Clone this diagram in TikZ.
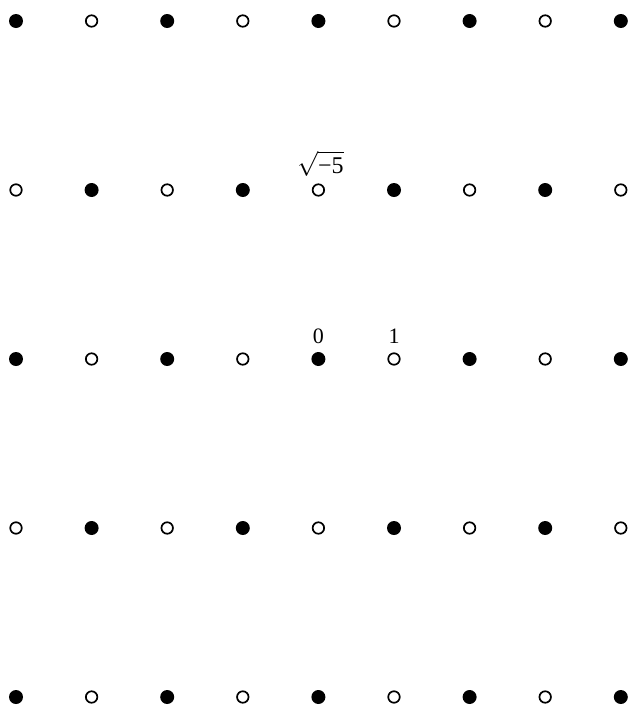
\documentclass[tikz,border=0pt]{standalone}
\usepackage{fontspec}
\setmainfont{Liberation Serif}
\usepackage{amsmath}
\usetikzlibrary{calc}
\begin{document}
\begin{tikzpicture}[x=1pt,y=-1pt,
  fulldot/.style={circle,fill=black,inner sep=0pt,minimum size=14pt},
  opendot/.style={circle,draw=black,line width=1.7pt,fill=white,inner sep=0pt,minimum size=11.5pt},
  lbl/.style={font=\fontsize{22}{26}\selectfont,inner sep=0pt,anchor=base}]
\useasboundingbox (0,0) rectangle (629,705);
\foreach \i in {0,...,8}{
  \foreach \j in {0,...,4}{
    \pgfmathtruncatemacro{\parity}{mod(\i+\j,2)}
    \ifnum\parity=0
      \node[fulldot] (p\i\j) at ({16+75.6*\i},{21+169*\j}) {};
    \else
      \node[opendot] (p\i\j) at ({16+75.6*\i},{21+169*\j}) {};
    \fi
  }
}
\node[lbl] (zero) at ($(p42)+(0,-16)$) {0};
\node[lbl] (one) at ($(p52)+(0,-16)$) {1};
\node[lbl,font=\fontsize{24}{28}\selectfont] (sq) at ($(p41)+(2,-17)$) {$\sqrt{\text{−5}}$};
\end{tikzpicture}
\end{document}
